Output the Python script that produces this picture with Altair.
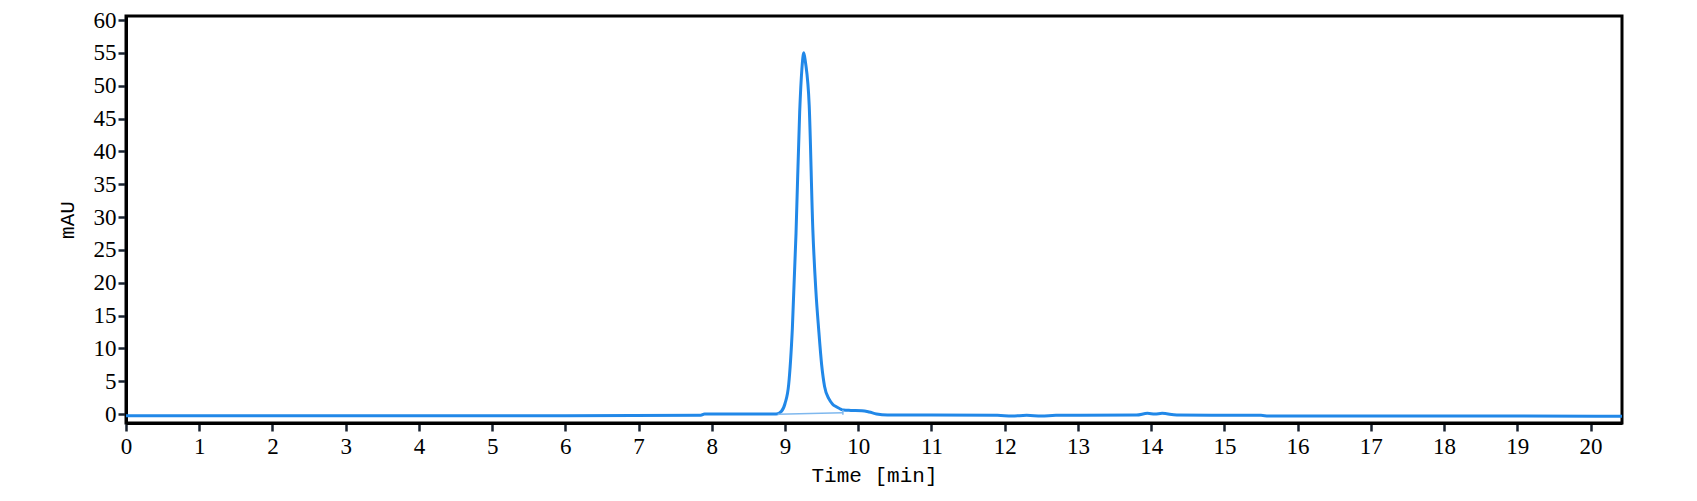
import altair as alt
import pandas as pd

# Chromatogram trace (time in min, signal in mAU)
times = [0, 2, 4, 6, 7.85, 7.9, 8.5, 8.88, 8.95, 9.0, 9.05, 9.1, 9.15, 9.2, 9.23,
         9.256, 9.28, 9.33, 9.38, 9.42, 9.46, 9.5, 9.54, 9.6, 9.65, 9.7, 9.75, 9.8,
         9.9, 10.05, 10.15, 10.25, 10.4, 11, 11.9, 12.1, 12.3, 12.5, 12.7, 13, 13.8,
         13.95, 14.05, 14.15, 14.35, 15.0, 15.5, 15.6, 17, 18, 19, 20.43]
values = [-0.25, -0.25, -0.25, -0.25, -0.2, 0.0, 0.0, 0.0, 0.4, 1.6, 4.5, 13, 27.5,
          46, 52.5, 55.0, 53.5, 47, 28, 19, 12.8, 7.5, 4.2, 2.3, 1.5, 1.1, 0.8, 0.6,
          0.55, 0.5, 0.3, 0.0, -0.15, -0.15, -0.2, -0.3, -0.2, -0.3, -0.2, -0.2, -0.15,
          0.1, 0.0, 0.1, -0.15, -0.2, -0.2, -0.3, -0.3, -0.3, -0.3, -0.35]

# Integration baseline under the peak
bl_times = [8.9, 9.79]
bl_values = [-0.05, 0.2]
bl_end_time = [9.79]
bl_end_low = [-0.1]
bl_end_high = [0.6]

x_ticks = list(range(0, 21))
y_ticks = list(range(0, 61, 5))

trace = pd.DataFrame({"t": times, "v": values})
base_df = pd.DataFrame({"t": bl_times, "v": bl_values})
end_df = pd.DataFrame({"t": bl_end_time, "lo": bl_end_low, "hi": bl_end_high})

xscale = alt.Scale(domain=[0, 20.43], nice=False, zero=False)
yscale = alt.Scale(domain=[-1.37, 60.61], nice=False, zero=False)

xaxis = alt.Axis(values=x_ticks, title="Time [min]", grid=False, format="d",
                 labelFlush=False, labelOverlap=False, titlePadding=6)
yaxis = alt.Axis(values=y_ticks, title="mAU", grid=False, format="d",
                 labelFlush=False, labelOverlap=False, titlePadding=16)

line = alt.Chart(trace).mark_line(color="#2188e8", strokeWidth=3, interpolate="monotone",
                                  clip=True).encode(
    x=alt.X("t:Q", scale=xscale, axis=xaxis),
    y=alt.Y("v:Q", scale=yscale, axis=yaxis),
)

baseline = alt.Chart(base_df).mark_line(color="#7fb8ee", strokeWidth=1.5, clip=True).encode(
    x=alt.X("t:Q", scale=xscale, axis=xaxis),
    y=alt.Y("v:Q", scale=yscale, axis=yaxis),
)

endmark = alt.Chart(end_df).mark_rule(color="#7fb8ee", strokeWidth=1.5).encode(
    x=alt.X("t:Q", scale=xscale, axis=xaxis),
    y=alt.Y("lo:Q", scale=yscale, axis=yaxis),
    y2="hi:Q",
)

chart = alt.layer(line, baseline, endmark).properties(
    width=1496,
    height=407,
    autosize=alt.AutoSizeParams(type="none"),
    padding={"left": 118, "top": 8, "right": 60, "bottom": 70},
).configure_view(
    stroke="black", strokeWidth=3
).configure_axis(
    domainColor="black", domainWidth=3,
    tickColor="#1a2330", tickWidth=2.5, tickSize=8,
    labelFont="Liberation Serif", labelFontSize=23, labelColor="black",
    labelPadding=2, labelOverlap=False,
    titleFont="Liberation Mono", titleFontSize=21, titleFontWeight="normal",
    titleColor="black",
).configure_axisX(labelPadding=4)

chart.save("out.html", embed_options={"renderer": "svg", "actions": False})
